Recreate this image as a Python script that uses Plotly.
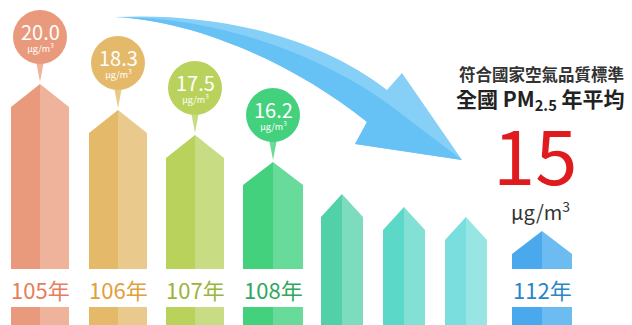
import plotly.graph_objects as go

# ---------------- data ----------------
years = ["105年", "106年", "107年", "108年", "109年", "110年", "111年", "112年"]
show_year = [True, True, True, True, False, False, False, True]
pm25 = [20.0, 18.3, 17.5, 16.2, None, None, None, None]
bar_level = [241, 215, 190, 163, 131, 118, 108, 94]   # visual bar height
target_value = 15
unit_html = "μg/m<sup>3</sup>"
title_line1 = "符合國家空氣品質標準"
title_line2 = "全國 PM<sub>2.5</sub> 年平均"

dark_colors = ["#ea9a7c", "#e5b96a", "#b9d25c", "#44d17e", "#52d1a9", "#5cd8c8", "#7adede", "#4aa8ec"]
light_colors = ["#efb29a", "#e9ca8c", "#c8dc84", "#68da9a", "#7cdcbd", "#82e0d4", "#98e6e4", "#6cbcf2"]
label_colors = ["#e97c58", "#e0a03a", "#9ab53c", "#2fa85c", None, None, None, "#2a86c8"]

# ---------------- layout constants ----------------
W, H = 632, 325
x_center = [40, 118, 195, 273, 342, 404, 466, 542]
half_w = [29, 29, 29, 30, 21, 21, 21, 30]
shoulder_drop = 23
band_top = H - 269
band_bottom = H - 307
circle_offset = 47
circle_r = 27
FONT = "Noto Sans CJK TC, Noto Sans, sans-serif"

fig = go.Figure()

# ---------------- arrow (decoration) ----------------
def P(x, py):
    return f"{x},{H - py}"

outer = ("M " + P(115, 17) + " C " + P(220, 12) + " " + P(320, 38) + " " + P(387, 90)
         + " L " + P(402, 73) + " L " + P(462, 160) + " L " + P(355, 144) + " L " + P(367, 122)
         + " C " + P(290, 60) + " " + P(190, 20) + " " + P(115, 17) + " Z")
inner = ("M " + P(115, 17) + " C " + P(220, 17) + " " + P(320, 55) + " " + P(387, 103)
         + " L " + P(462, 160) + " L " + P(355, 144) + " L " + P(367, 122)
         + " C " + P(290, 60) + " " + P(190, 20) + " " + P(115, 17) + " Z")
fig.add_shape(type="path", path=outer, xref="x", yref="y", fillcolor="#86cff7",
              line=dict(width=0), layer="below")
fig.add_shape(type="path", path=inner, xref="x", yref="y", fillcolor="#66c1f5",
              line=dict(width=0), layer="below")

# ---------------- bars ----------------
for i, lvl in enumerate(bar_level):
    xc, hw = x_center[i], half_w[i]
    base = band_top if show_year[i] else -5
    for side, col in ((-1, dark_colors[i]), (1, light_colors[i])):
        xe = xc + side * hw
        xs = [xe, xe, xc, xc, xe]
        ys = [base, lvl - shoulder_drop, lvl, base, base]
        if show_year[i]:
            xs += [None, xe, xe, xc, xc, xe]
            ys += [None, -5, band_bottom, band_bottom, -5, -5]
        fig.add_trace(go.Scatter(x=xs, y=ys, mode="lines", fill="toself", fillcolor=col,
                                 line=dict(width=0), hoverinfo="skip", showlegend=False))

# ---------------- value bubbles ----------------
for i, v in enumerate(pm25):
    if v is None:
        continue
    xc, lvl = x_center[i], bar_level[i]
    cy = lvl + circle_offset
    # pin
    fig.add_trace(go.Scatter(x=[xc - 4, xc + 4, xc, xc - 4],
                             y=[cy - circle_r + 3, cy - circle_r + 3, lvl + 2, cy - circle_r + 3],
                             mode="lines", fill="toself", fillcolor=light_colors[i],
                             line=dict(width=0), hoverinfo="skip", showlegend=False))
    fig.add_trace(go.Scatter(x=[xc], y=[cy], mode="markers",
                             marker=dict(size=2 * circle_r, color=dark_colors[i], line=dict(width=0)),
                             hoverinfo="skip", showlegend=False))
    fig.add_annotation(x=xc, y=cy + 1, yanchor="middle",
                       text=f"<span style='font-size:20px'>{v:.1f}</span><br>{unit_html}",
                       showarrow=False, align="center",
                       font=dict(family=FONT, size=9, color="white"))

# ---------------- year labels ----------------
for i, yl in enumerate(years):
    if not show_year[i]:
        continue
    fig.add_annotation(x=x_center[i], y=H - 289, text=yl, showarrow=False,
                       font=dict(family=FONT, size=22, color=label_colors[i]))

# ---------------- right-side text ----------------
fig.add_annotation(x=541, y=H - 74, text=title_line1, showarrow=False,
                   font=dict(family=FONT, size=16.5, color="#333333", weight="bold"))
fig.add_annotation(x=540, y=H - 99, text=title_line2, showarrow=False,
                   font=dict(family=FONT, size=21, color="#222222", weight="bold"))
fig.add_annotation(x=535, y=H - 152, text=str(target_value), showarrow=False,
                   font=dict(family=FONT, size=76, color="#e01b1e"))
fig.add_annotation(x=540, y=H - 211, text=unit_html, showarrow=False,
                   font=dict(family=FONT, size=20, color="#333333"))

fig.update_layout(
    width=W, height=H, autosize=False,
    margin=dict(l=0, r=0, t=0, b=0),
    paper_bgcolor="white", plot_bgcolor="white",
    xaxis=dict(range=[0, W], visible=False, fixedrange=True),
    yaxis=dict(range=[0, H], visible=False, fixedrange=True),
    showlegend=False,
)

fig.write_html("out.html", config={"displayModeBar": False})
